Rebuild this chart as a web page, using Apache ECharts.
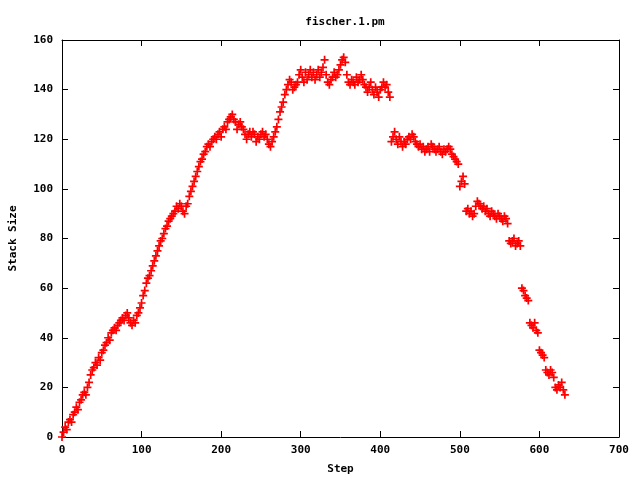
<!DOCTYPE html>
<html>
<head>
<meta charset="utf-8">
<script src="https://cdn.jsdelivr.net/npm/echarts@6/dist/echarts.min.js"></script>
<style>html,body{margin:0;padding:0;background:#fff}#c{width:640px;height:480px}</style>
</head>
<body>
<div id="c"></div>
<script>
var titleText = "fischer.1.pm";
var xName = "Step";
var yName = "Stack Size";
var xTicks = [0, 100, 200, 300, 400, 500, 600, 700];
var yTicks = [0, 20, 40, 60, 80, 100, 120, 140, 160];

var steps = [
0,2,4,6,8,10,12,14,16,18,20,22,24,26,28,30,32,34,36,38,40,42,44,46,48,50,52,54,56,58,
60,62,64,66,68,70,72,74,76,78,80,82,84,86,88,90,92,94,96,98,100,102,104,106,108,110,112,114,116,118,
120,122,124,126,128,130,132,134,136,138,140,142,144,146,148,150,152,154,156,158,160,162,164,166,168,170,172,174,176,178,
180,182,184,186,188,190,192,194,196,198,200,202,204,206,208,210,212,214,216,218,220,222,224,226,228,230,232,234,236,238,
240,242,244,246,248,250,252,254,256,258,260,262,264,266,268,270,272,274,276,278,280,282,284,286,288,290,292,294,296,298,
300,302,304,306,308,310,312,314,316,318,320,322,324,326,328,330,332,334,336,338,340,342,344,346,348,350,352,354,356,358,
360,362,364,366,368,370,372,374,376,378,380,382,384,386,388,390,392,394,396,398,400,402,404,406,408,410,412,
414,416,418,420,422,424,426,428,430,432,434,436,438,440,442,444,446,448,450,452,454,456,458,460,462,464,466,468,470,472,
474,476,478,480,482,484,486,488,490,492,494,496,498,500,502,504,506,508,510,512,514,516,518,520,522,524,526,528,530,532,
534,536,538,540,542,544,546,548,550,552,554,556,558,560,562,564,566,568,570,572,574,576,578,580,582,584,586,588,590,592,
594,596,598,600,602,604,606,608,610,612,614,616,618,620,622,624,626,628,630,632
];
var stackSize = [
0,2,4,3,6,7,6,9,10,12,11,14,15,17,18,17,20,22,25,27,28,30,29,32,31,34,35,37,38,40,
39,42,43,44,43,45,46,47,48,47,49,50,48,46,45,47,46,49,50,52,54,57,59,62,64,65,67,69,71,73,
75,77,79,80,82,84,85,87,88,89,90,91,93,92,94,93,91,90,93,94,97,99,101,103,105,107,109,111,112,114,
115,117,118,117,119,120,121,120,122,123,121,124,125,124,127,128,129,130,128,127,124,126,127,125,124,122,120,122,123,121,
123,122,119,121,120,122,123,121,122,120,118,117,119,121,123,125,128,131,133,135,138,140,142,144,143,140,141,142,143,146,
148,145,143,147,144,146,148,145,147,144,146,148,145,147,149,152,146,143,142,144,145,147,145,146,148,150,152,153,151,146,
143,142,144,143,142,145,143,144,146,144,142,141,139,141,143,140,138,141,139,137,140,141,143,141,142,139,137,
119,121,123,120,118,121,119,117,119,118,120,121,120,122,121,119,118,117,118,116,117,115,116,117,115,118,117,116,115,116,
117,115,114,116,115,116,117,116,114,113,112,111,110,101,103,105,102,91,92,90,91,89,90,93,95,94,93,92,93,91,
92,90,89,91,90,89,88,90,89,88,87,89,88,86,79,78,79,80,77,78,79,77,60,59,57,56,55,46,45,44,
46,43,42,35,34,33,32,27,26,25,27,26,24,20,19,21,20,22,19,17
];

var pts = steps.map(function (s, i) { return [s, stackSize[i]]; });

var font = '"DejaVu Sans Mono", "Liberation Mono", monospace';
var chart = echarts.init(document.getElementById('c'), null, {renderer: 'canvas'});
var tickStyle = {show: true, inside: true, length: 6, lineStyle: {color: '#000', width: 1}};
var lineStyle = {show: true, onZero: false, lineStyle: {color: '#000', width: 1}};
var labelStyle = {color: '#000', fontFamily: font, fontWeight: 'bold', fontSize: 11};
chart.setOption({
  animation: false,
  backgroundColor: '#fff',
  title: {
    text: titleText, left: 340, top: 12, textAlign: 'center',
    textStyle: {color: '#000', fontFamily: font, fontWeight: 'bold', fontSize: 11}
  },
  grid: {left: 62, right: 21, top: 40, bottom: 40, containLabel: false},
  xAxis: [{
    type: 'value', min: xTicks[0], max: xTicks[xTicks.length - 1], interval: 100,
    name: xName, nameLocation: 'middle', nameGap: 27,
    nameTextStyle: labelStyle,
    axisLine: lineStyle, axisTick: tickStyle, splitLine: {show: false},
    axisLabel: Object.assign({margin: 8}, labelStyle)
  }, {
    type: 'value', position: 'top', min: xTicks[0], max: xTicks[xTicks.length - 1], interval: 100,
    axisLine: lineStyle, axisTick: tickStyle, splitLine: {show: false}, axisLabel: {show: false}
  }],
  yAxis: [{
    type: 'value', min: yTicks[0], max: yTicks[yTicks.length - 1], interval: 20,
    name: yName, nameLocation: 'middle', nameGap: 43, nameRotate: 90,
    nameTextStyle: labelStyle,
    axisLine: lineStyle, axisTick: tickStyle, splitLine: {show: false},
    axisLabel: Object.assign({margin: 9}, labelStyle)
  }, {
    type: 'value', position: 'right', min: yTicks[0], max: yTicks[yTicks.length - 1], interval: 20,
    axisLine: lineStyle, axisTick: tickStyle, splitLine: {show: false}, axisLabel: {show: false}
  }],
  series: [{
    type: 'scatter',
    data: pts,
    symbol: 'path://M0,2.75h2.75v-2.75h1.5v2.75h2.75v1.5h-2.75v2.75h-1.5v-2.75h-2.75z',
    symbolSize: 8,
    itemStyle: {color: '#ff0000', opacity: 1},
    emphasis: {disabled: true},
    silent: true
  }]
});
</script>
</body>
</html>
